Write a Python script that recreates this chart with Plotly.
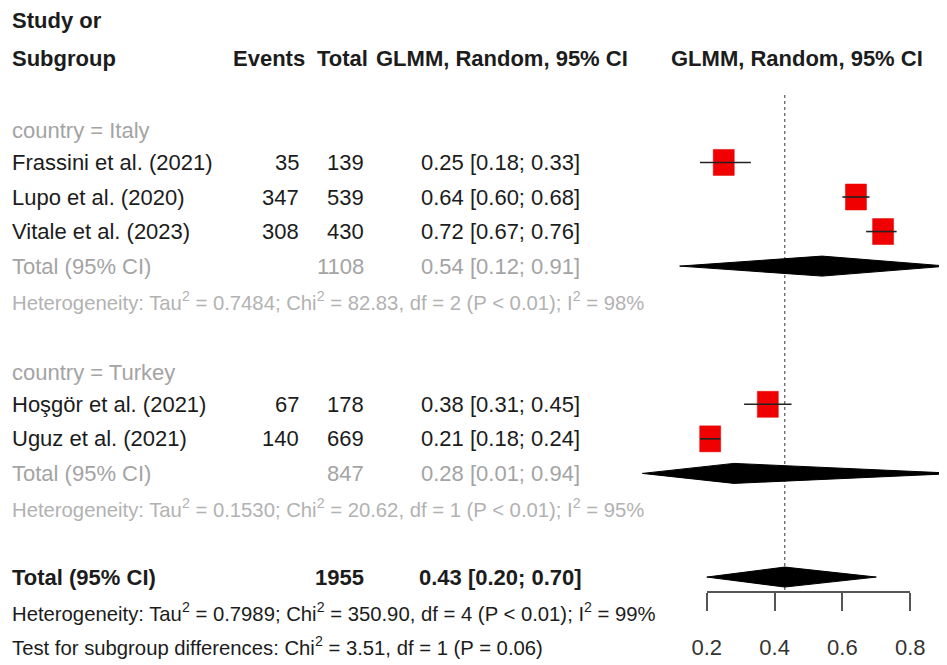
import plotly.graph_objects as go

# ---------------- data ----------------
studies = ["Frassini et al. (2021)", "Lupo et al. (2020)", "Vitale et al. (2023)",
           "Hoşgör et al. (2021)", "Uguz et al. (2021)"]
events = [35, 347, 308, 67, 140]
totals = [139, 539, 430, 178, 669]
est = [0.25, 0.64, 0.72, 0.38, 0.21]
lower = [0.18, 0.60, 0.67, 0.31, 0.18]
upper = [0.33, 0.68, 0.76, 0.45, 0.24]
study_rows = [3, 4, 5, 10, 11]

groups = ["country = Italy", "country = Turkey"]
group_label_rows = [2, 9]
group_n = [1108, 847]
group_est = [0.54, 0.28]
group_lower = [0.12, 0.01]
group_upper = [0.91, 0.94]
group_total_rows = [6, 12]
group_het = [
    "Heterogeneity: Tau<sup>2</sup> = 0.7484; Chi<sup>2</sup> = 82.83, df = 2 (P < 0.01); I<sup>2</sup> = 98%",
    "Heterogeneity: Tau<sup>2</sup> = 0.1530; Chi<sup>2</sup> = 20.62, df = 1 (P < 0.01); I<sup>2</sup> = 95%",
]
group_het_rows = [7, 13]

overall_n = 1955
overall_est = 0.43
overall_lower = 0.20
overall_upper = 0.70
overall_row = 15
overall_het = ("Heterogeneity: Tau<sup>2</sup> = 0.7989; Chi<sup>2</sup> = 350.90, df = 4 "
               "(P < 0.01); I<sup>2</sup> = 99%")
subgroup_test = "Test for subgroup differences: Chi<sup>2</sup> = 3.51, df = 1 (P = 0.06)"
overall_het_row = 16
subgroup_test_row = 17

tick_vals = [0.2, 0.4, 0.6, 0.8]
tick_labels = ["0.2", "0.4", "0.6", "0.8"]

# ---------------- layout constants ----------------
W, H = 947, 665
OFF = 8                                # page body margin
X0PX, XSCALE = 639.0 - OFF, 339.0      # pixel of value 0, pixels per unit
Y0PX, YSCALE = 58.8 - OFF, 34.55       # pixel of row 0, pixels per row
x_range = [(0 - X0PX) / XSCALE, (W - X0PX) / XSCALE]
y_range = [(H - Y0PX) / YSCALE, (0 - Y0PX) / YSCALE]
AXIS_PX = 592 - OFF
axis_row = (AXIS_PX - Y0PX) / YSCALE

FONT = "Liberation Sans, Arial, sans-serif"
BLACK = "#1c1c1c"
GRAY = "#a4a4a4"
HETGRAY = "#b2b2b2"
FS = 22
FS_HET = 20.3

SQ_HW = 10.5 / XSCALE
SQ_HH = 13.0 / YSCALE
DI_HH = 10.0 / YSCALE

fig = go.Figure()

# reference line
fig.add_trace(go.Scatter(x=[overall_est, overall_est], y=[1.05, axis_row - 0.05], mode="lines",
                         line=dict(color="#555555", width=1.2, dash="dot"),
                         hoverinfo="skip", showlegend=False))

# squares
for e, r in zip(est, study_rows):
    fig.add_trace(go.Scatter(
        x=[e - SQ_HW, e + SQ_HW, e + SQ_HW, e - SQ_HW, e - SQ_HW],
        y=[r - SQ_HH, r - SQ_HH, r + SQ_HH, r + SQ_HH, r - SQ_HH],
        fill="toself", fillcolor="#f00000", mode="lines",
        line=dict(color="#e00000", width=0.5), hoverinfo="skip", showlegend=False))

# CI lines
for lo, hi, r in zip(lower, upper, study_rows):
    fig.add_trace(go.Scatter(x=[lo, hi], y=[r, r], mode="lines",
                             line=dict(color="#222222", width=1.6),
                             hoverinfo="skip", showlegend=False))

# diamonds
def diamond(e, lo, hi, r):
    fig.add_trace(go.Scatter(
        x=[lo, e, hi, e, lo], y=[r, r - DI_HH, r, r + DI_HH, r],
        fill="toself", fillcolor="#000000", mode="lines",
        line=dict(color="#000000", width=1), hoverinfo="skip", showlegend=False))

for e, lo, hi, r in zip(group_est, group_lower, group_upper, group_total_rows):
    diamond(e, lo, hi, r)
diamond(overall_est, overall_lower, overall_upper, overall_row)

# dummy trace for the bottom axis
fig.add_trace(go.Scatter(x=[0.2, 0.8], y=[axis_row, axis_row], xaxis="x2", yaxis="y",
                         mode="markers", marker=dict(opacity=0), hoverinfo="skip",
                         showlegend=False))

# ---------------- text ----------------
ann = []
def txt(s, xpx, row, anchor="left", color=BLACK, size=FS, bold=False):
    if bold:
        s = "<b>" + s + "</b>"
    ann.append(dict(text=s, x=(xpx - OFF) / W, xref="paper", y=row, yref="y",
                    xanchor=anchor, yanchor="middle", showarrow=False,
                    borderpad=0, borderwidth=0,
                    font=dict(family=FONT, size=size, color=color)))

LEFT = 12
EV_R, TOT_R, CI_C = 299, 364, 500

# header
txt("Study or", LEFT, -1.12, bold=True)
txt("Subgroup", LEFT, 0, bold=True)
txt("Events", 305, 0, anchor="right", bold=True)
txt("Total", 368, 0, anchor="right", bold=True)
txt("GLMM, Random, 95% CI", 502, 0, anchor="center", bold=True)
txt("GLMM, Random, 95% CI", 797, 0, anchor="center", bold=True)

# studies
for s, ev, n, e, lo, hi, r in zip(studies, events, totals, est, lower, upper, study_rows):
    txt(s, LEFT, r)
    txt(str(ev), EV_R, r, anchor="right")
    txt(str(n), TOT_R, r, anchor="right")
    txt(f"{e:.2f} [{lo:.2f}; {hi:.2f}]", CI_C, r, anchor="center")

# subgroups
for g, gr, n, e, lo, hi, tr, het, hr in zip(groups, group_label_rows, group_n, group_est,
                                             group_lower, group_upper, group_total_rows,
                                             group_het, group_het_rows):
    txt(g, LEFT, gr + 0.08, color=GRAY)
    txt("Total (95% CI)", LEFT, tr, color=GRAY)
    txt(str(n), TOT_R, tr, anchor="right", color=GRAY)
    txt(f"{e:.2f} [{lo:.2f}; {hi:.2f}]", CI_C, tr, anchor="center", color=GRAY)
    txt(het, LEFT, hr, color=HETGRAY, size=FS_HET)

# overall
txt("Total (95% CI)", LEFT, overall_row, bold=True)
txt(str(overall_n), TOT_R, overall_row, anchor="right", bold=True)
txt(f"{overall_est:.2f} [{overall_lower:.2f}; {overall_upper:.2f}]", CI_C, overall_row,
    anchor="center", bold=True)
txt(overall_het, LEFT, overall_het_row, size=FS_HET)
txt(subgroup_test, LEFT, subgroup_test_row, size=FS_HET)

fig.update_layout(
    template="none",
    width=W, height=H, margin=dict(l=0, r=0, t=0, b=0, pad=0, autoexpand=False),
    paper_bgcolor="white", plot_bgcolor="rgba(0,0,0,0)",
    xaxis=dict(domain=[0, 1], range=x_range, visible=False, fixedrange=True,
               automargin=False),
    yaxis=dict(domain=[0, 1], range=y_range, visible=False, fixedrange=True,
               automargin=False),
    xaxis2=dict(domain=[(X0PX + XSCALE * 0.2) / W, (X0PX + XSCALE * 0.8) / W],
                range=[0.2, 0.8], anchor="free", position=1 - AXIS_PX / H, side="bottom",
                showline=True, linecolor="#555555", linewidth=1.5,
                ticks="outside", ticklen=18, tickwidth=1.5, tickcolor="#555555",
                tickvals=tick_vals, ticktext=tick_labels, ticklabelstandoff=18,
                tickfont=dict(family=FONT, size=22, color="#333333"),
                showgrid=False, zeroline=False, fixedrange=True, automargin=False),
    annotations=ann,
    showlegend=False,
)

fig.write_html("out.html")
